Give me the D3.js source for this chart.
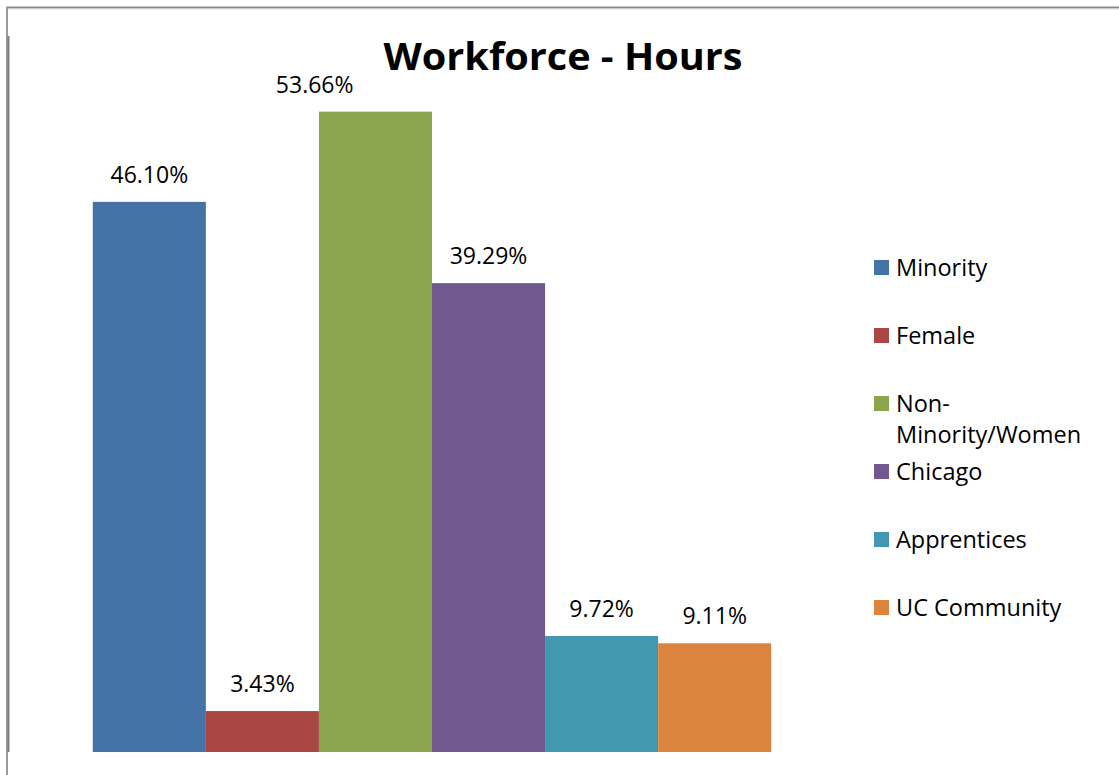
<!DOCTYPE html>
<html><head><meta charset="utf-8">
<script src="https://cdnjs.cloudflare.com/ajax/libs/d3/7.8.5/d3.min.js"></script>
<style>body{margin:0;background:#fff}svg{display:block}</style>
</head><body>
<script>
const series = ["Minority","Female","Non-Minority/Women","Chicago","Apprentices","UC Community"];
const values = [46.10, 3.43, 53.66, 39.29, 9.72, 9.11];
const labels = ["46.10%","3.43%","53.66%","39.29%","9.72%","9.11%"];
const legendLines = [["Minority"],["Female"],["Non-","Minority/Women"],["Chicago"],["Apprentices"],["UC Community"]];
const colors = ["#4572A7","#AA4643","#89A54E","#71588F","#4198AF","#DB843D"];

const W = 1119, H = 775;
const svg = d3.select("body").append("svg").attr("width", W).attr("height", H);
const font = "'Open Sans', sans-serif";

// chart frame
svg.append("line").attr("x1",6).attr("x2",W).attr("y1",7.5).attr("y2",7.5).attr("stroke","#8a8a8a").attr("stroke-width",2);
svg.append("line").attr("x1",6).attr("x2",W).attr("y1",9).attr("y2",9).attr("stroke","#d8d8d8").attr("stroke-width",1);
svg.append("line").attr("x1",7).attr("x2",7).attr("y1",7).attr("y2",H).attr("stroke","#9a9a9a").attr("stroke-width",2);

const x = d3.scaleBand().domain(series).range([8, 856]).paddingInner(0).paddingOuter(0.75);
const y = d3.scaleLinear().domain([0, 60]).range([752, 36]);

// value axis line (no ticks)
svg.append("line").attr("x1",8.5).attr("x2",8.5).attr("y1",y(60)).attr("y2",y(0)).attr("stroke","#7f7f7f").attr("stroke-width",2);

const title = svg.append("text").attr("x",563).attr("y",70).attr("text-anchor","middle")
  .attr("font-family",font).attr("font-weight","bold").attr("font-size",38).attr("fill","#000")
  .attr("textLength",359).attr("lengthAdjust","spacingAndGlyphs")
  .text("Workforce - Hours");
const tb = title.node().getBBox();

const data = series.map((s,i)=>({s, v: values[i], l: labels[i], c: colors[i]}));

svg.selectAll("rect.bar").data(data).enter().append("rect").attr("class","bar")
  .attr("x", d=>x(d.s)).attr("width", x.bandwidth())
  .attr("y", d=>y(d.v)).attr("height", d=>y(0)-y(d.v)).attr("fill", d=>d.c);

const lbls = svg.selectAll("text.lbl").data(data).enter().append("text").attr("class","lbl")
  .attr("x", d=>x(d.s)+x.bandwidth()/2).attr("y", d=>y(d.v)-19)
  .attr("text-anchor","middle").attr("font-family",font).attr("font-size",23).attr("fill","#000")
  .text(d=>d.l);
// move labels that collide with the title to its left (as the reference does)
lbls.each(function(){
  const b = this.getBBox();
  if (b.y < tb.y + tb.height && b.x + b.width > tb.x - 20) {
    const cx = tb.x - 30 - b.width/2;
    d3.select(this).attr("x", cx);
  }
});

// legend
const legendY = [268, 336, 404, 472, 540, 608];
const lg = svg.append("g");
series.forEach((s,i)=>{
  lg.append("rect").attr("x",874).attr("y",legendY[i]-8).attr("width",15).attr("height",15).attr("fill",colors[i]);
  legendLines[i].forEach((t,j)=>{
    lg.append("text").attr("x",896).attr("y",legendY[i]+8+j*31)
      .attr("font-family",font).attr("font-size",23.5).attr("fill","#000").text(t);
  });
});
</script>
</body></html>
